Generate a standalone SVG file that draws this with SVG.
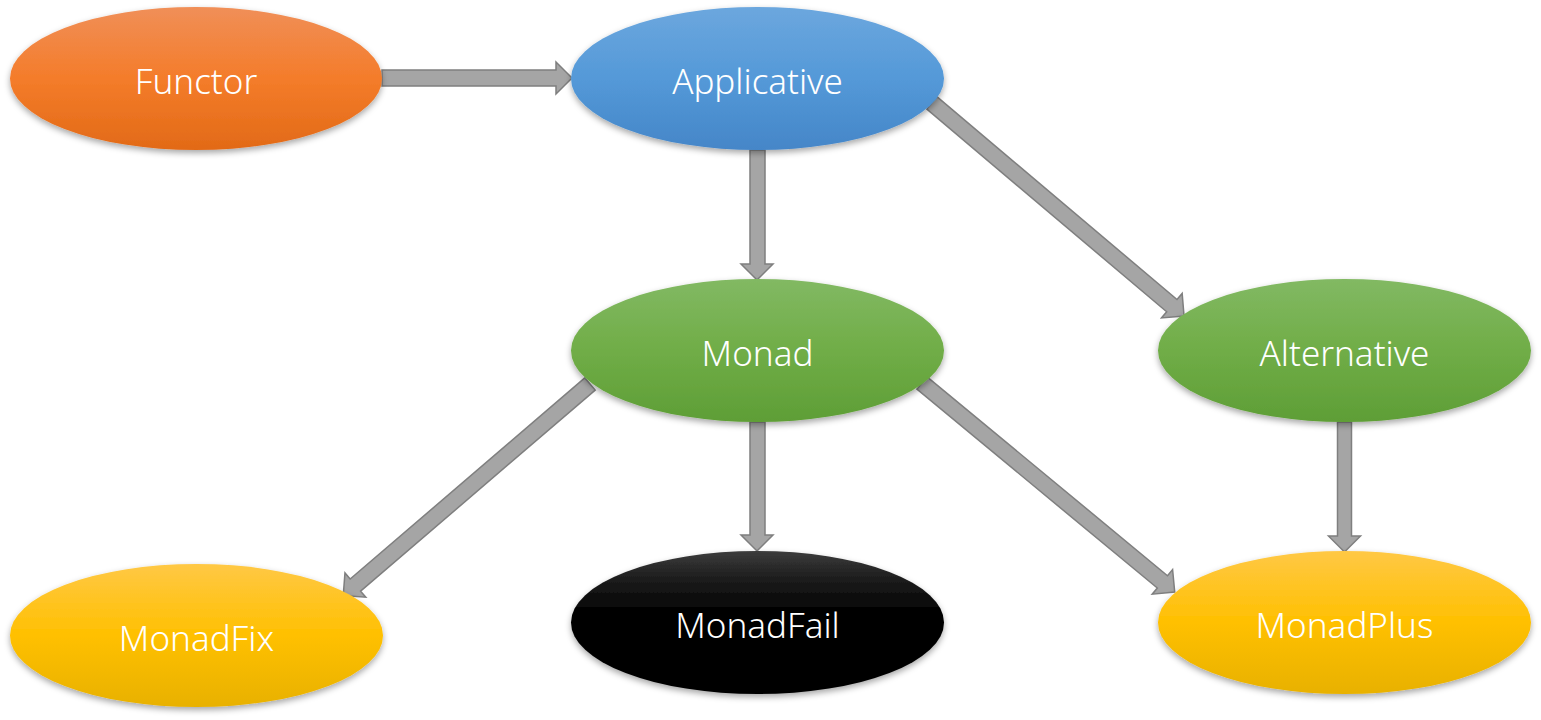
<svg xmlns="http://www.w3.org/2000/svg" width="1541" height="720" viewBox="0 0 1541 720">
<defs>
<linearGradient id="gOrange" x1="0" y1="0" x2="0" y2="1"><stop offset="0" stop-color="#f08f58"/><stop offset="0.5" stop-color="#f47c2a"/><stop offset="1" stop-color="#e26a17"/></linearGradient>
<linearGradient id="gBlue" x1="0" y1="0" x2="0" y2="1"><stop offset="0" stop-color="#6ca7de"/><stop offset="0.5" stop-color="#5499d8"/><stop offset="1" stop-color="#4586c8"/></linearGradient>
<linearGradient id="gGreen" x1="0" y1="0" x2="0" y2="1"><stop offset="0" stop-color="#82b963"/><stop offset="0.5" stop-color="#70ad47"/><stop offset="1" stop-color="#5e9e36"/></linearGradient>
<linearGradient id="gYellow" x1="0" y1="0" x2="0" y2="1"><stop offset="0" stop-color="#ffc845"/><stop offset="0.5" stop-color="#ffc000"/><stop offset="1" stop-color="#e8b100"/></linearGradient>
<linearGradient id="gBlack" x1="0" y1="0" x2="0" y2="1"><stop offset="0" stop-color="#3c3c3c"/><stop offset="0.2" stop-color="#1c1c1c"/><stop offset="0.45" stop-color="#000"/><stop offset="1" stop-color="#000"/></linearGradient>
<filter id="sh" x="-10%" y="-10%" width="120%" height="130%"><feDropShadow dx="0" dy="3" stdDeviation="3" flood-color="#000" flood-opacity="0.35"/></filter>
</defs>
<style>
.node ellipse{filter:url(#sh);}
.node text{font-family:"Noto Sans","Open Sans","Liberation Sans",sans-serif;font-weight:300;font-size:35px;fill:#fff;text-anchor:middle;dominant-baseline:central;}
.arrow{fill:#a5a5a5;stroke:#7f7f7f;stroke-width:1.5;stroke-linejoin:miter;}
</style>
<g id="connectors">
<path class="arrow" d="M382,70 H556 V62 L572,78 L556,94 V86 H382 Z"/>
<path class="arrow" d="M750,150 V264 H741 L757,280 L773,264 H765 V150 Z"/>
<path class="arrow" d="M750,422 V535 H741 L757,551 L773,535 H765 V422 Z"/>
<path class="arrow" d="M1337.5,422 V536 H1328.5 L1344.5,552 L1360.5,536 H1351.5 V422 Z"/>
<path class="arrow" transform="translate(932,103) rotate(40.2)" d="M0,-8 H314 V-16 L330,0 L314,16 V8 H0 Z"/>
<path class="arrow" transform="translate(922,383) rotate(39.6)" d="M0,-8 H312 V-16 L328,0 L312,16 V8 H0 Z"/>
<path class="arrow" transform="translate(590,384) rotate(139.4)" d="M0,-8 H309 V-16 L325,0 L309,16 V8 H0 Z"/>
</g>
<g id="functor" class="node"><ellipse cx="196" cy="78.5" rx="186" ry="71.5" fill="url(#gOrange)"/><text x="196" y="80">Functor</text></g>
<g id="applicative" class="node"><ellipse cx="757.5" cy="78.5" rx="186.5" ry="71.5" fill="url(#gBlue)"/><text x="757.5" y="80">Applicative</text></g>
<g id="monad" class="node"><ellipse cx="757.5" cy="350.5" rx="186.5" ry="71.5" fill="url(#gGreen)"/><text x="757.5" y="352">Monad</text></g>
<g id="alternative" class="node"><ellipse cx="1344.5" cy="350.5" rx="186.5" ry="71.5" fill="url(#gGreen)"/><text x="1344.5" y="352">Alternative</text></g>
<g id="monadfix" class="node"><ellipse cx="196.5" cy="635.5" rx="186.5" ry="71.5" fill="url(#gYellow)"/><text x="196.5" y="637">MonadFix</text></g>
<g id="monadfail" class="node"><ellipse cx="757.5" cy="622.5" rx="186.5" ry="71.5" fill="url(#gBlack)"/><text x="757.5" y="624">MonadFail</text></g>
<g id="monadplus" class="node"><ellipse cx="1344.5" cy="622.5" rx="186.5" ry="71.5" fill="url(#gYellow)"/><text x="1344.5" y="624">MonadPlus</text></g>
</svg>
